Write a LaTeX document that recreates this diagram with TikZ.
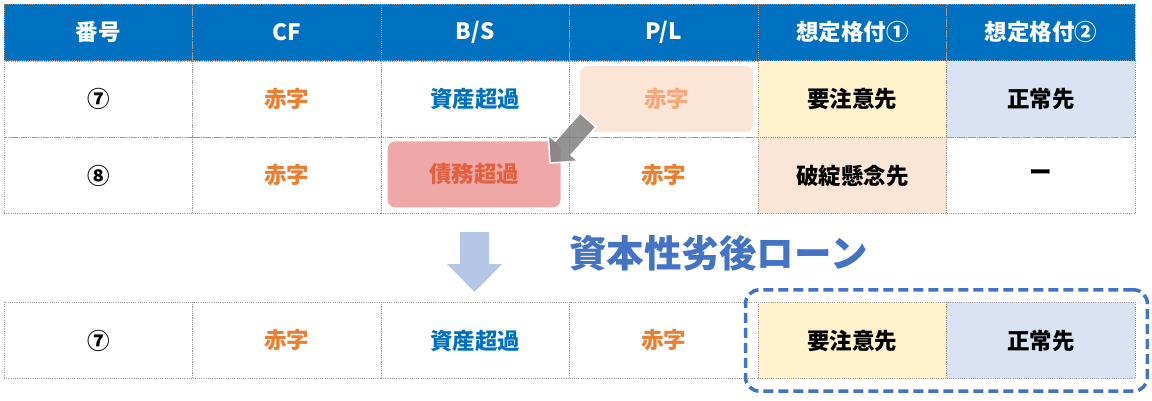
\documentclass[tikz,border=0pt]{standalone}
\usepackage{fontspec}
\setmainfont{Noto Sans CJK JP}
\usetikzlibrary{fit}

\definecolor{hdrblue}{HTML}{0070C0}
\definecolor{gridgray}{HTML}{9A9A9A}
\definecolor{redtxt}{HTML}{ED7D31}
\definecolor{bluetxt}{HTML}{0070C0}
\definecolor{cautionfill}{HTML}{FFF2CC}
\definecolor{doubtfill}{HTML}{FBE5D6}
\definecolor{normalfill}{HTML}{DAE3F3}
\definecolor{debtfill}{HTML}{EFA7A7}
\definecolor{debttxt}{HTML}{E2603F}
\definecolor{lighttxt}{HTML}{F4A87C}
\definecolor{downblue}{HTML}{B4C7E7}
\definecolor{loanblue}{HTML}{4472C4}

\newcommand\tabfont{\fontsize{22.5}{26}\selectfont\bfseries}

\tikzset{
  cell/.style={draw=gridgray, dash pattern=on 1pt off 1.2pt, line width=0.9pt,
    minimum width=188.5pt, minimum height=76.5pt, inner sep=0pt, font=\tabfont},
  hdr/.style={cell, fill=hdrblue, text=white, minimum height=57pt},
  red/.style={text=redtxt},
  blue/.style={text=bluetxt},
  movebox/.style={rounded corners=8pt, minimum width=173pt, minimum height=66pt, font=\tabfont},
}

\begin{document}
\begin{tikzpicture}[x=1pt, y=-1pt]
    \useasboundingbox (0,0) rectangle (1152,401);

    % header
    \node[hdr] (h1) at (98.25,32.5) {番号};
    \node[hdr] (h2) at (286.75,32.5) {CF};
    \node[hdr] (h3) at (475.25,32.5) {B/S};
    \node[hdr] (h4) at (663.75,32.5) {P/L};
    \node[hdr] (h5) at (852.25,32.5) {想定格付①};
    \node[hdr] (h6) at (1040.75,32.5) {想定格付②};

    % row 7
    \node[cell] (a1) at (98.25,99) {⑦};
    \node[cell, red] (a2) at (286.75,99) {赤字};
    \node[cell, blue] (a3) at (475.25,99) {資産超過};
    \node[cell] (a4) at (663.75,99) {};
    \node[cell, fill=cautionfill] (a5) at (852.25,99) {要注意先};
    \node[cell, fill=normalfill] (a6) at (1040.75,99) {正常先};

    % row 8
    \node[cell] (b1) at (98.25,175.5) {⑧};
    \node[cell, red] (b2) at (286.75,175.5) {赤字};
    \node[cell] (b3) at (475.25,175.5) {};
    \node[cell, red] (b4) at (663.75,175.5) {赤字};
    \node[cell, fill=doubtfill] (b5) at (852.25,175.5) {破綻懸念先};
    \node[cell] (b6) at (1040.75,175.5) {ー};

    \node[movebox, fill=doubtfill, text=lighttxt] (plbox) at (666.5,99) {赤字};
    \node[movebox, fill=debtfill, text=debttxt] (debtbox) at (474,174.5) {債務超過};

    % shift arrow
    \filldraw[draw=white, line width=1.5pt, fill=black!50, fill opacity=0.85]
      (580.1,113) -- (555.3,141) -- (548.2,134.8) -- (550,163)
      -- (578.2,161.2) -- (571.1,155) -- (595.9,127) -- cycle;

    % after the loan
    \fill[downblue] (460,232) -- (489,232) -- (489,264) -- (502,264)
      -- (474.5,292) -- (447,264) -- (460,264) -- cycle;
    \node[text=loanblue, font=\fontsize{37.5}{42}\selectfont\bfseries] (loan) at (718.5,253) {資本性劣後ローン};

    \node[cell] (c1) at (98.25,340.5) {⑦};
    \node[cell, red] (c2) at (286.75,340.5) {赤字};
    \node[cell, blue] (c3) at (475.25,340.5) {資産超過};
    \node[cell, red] (c4) at (663.75,340.5) {赤字};
    \node[cell, fill=cautionfill] (c5) at (852.25,340.5) {要注意先};
    \node[cell, fill=normalfill] (c6) at (1040.75,340.5) {正常先};

    \node[draw=loanblue, line width=3.5pt, dash pattern=on 10pt off 5pt, rounded corners=14pt,
      inner xsep=12pt, inner ysep=12pt, fit=(c5)(c6)] (focus) {};
\end{tikzpicture}
\end{document}
